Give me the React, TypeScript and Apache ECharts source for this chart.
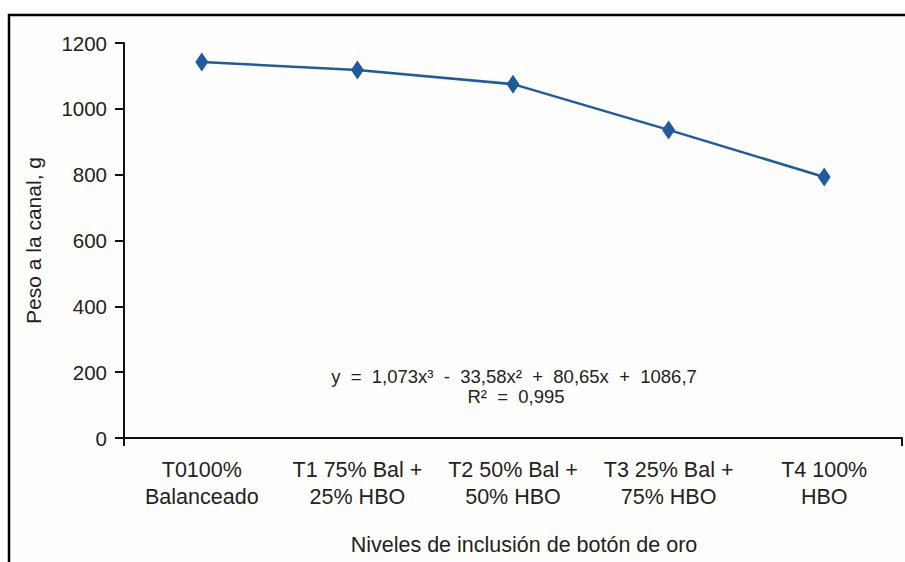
import React, { useEffect, useRef } from "react";
import * as echarts from "echarts";

const categories = [
  "T0100%\nBalanceado",
  "T1 75% Bal +\n25% HBO",
  "T2 50% Bal +\n50% HBO",
  "T3 25% Bal +\n75% HBO",
  "T4 100%\nHBO",
];
const pesoCanal = [1142, 1118, 1075, 936, 793];
const yTicks = { min: 0, max: 1200, interval: 200 };
const equationLine = "y  =  1,073x³  -  33,58x²  +  80,65x  +  1086,7";
const r2Line = "R²  =  0,995";
const xTitle = "Niveles de inclusión de botón de oro";
const yTitle = "Peso a la canal, g";

export default function App() {
  const ref = useRef<HTMLDivElement>(null);
  useEffect(() => {
    if (!ref.current) return;
    const chart = echarts.init(ref.current, null, { renderer: "svg" });
    const font = "'Liberation Sans', Arial, sans-serif";
    chart.setOption({
      animation: false,
      backgroundColor: "#ffffff",
      textStyle: { fontFamily: font },
      grid: { left: 124, right: 3, top: 43, bottom: 124, containLabel: false },
      graphic: [
        {
          type: "rect",
          shape: { x: 9, y: 15, width: 960, height: 600 },
          style: { fill: "#fefefc", stroke: "#000", lineWidth: 2.5 },
          z: -10,
        },
        {
          type: "text",
          x: 514,
          y: 376,
          style: {
            text: equationLine,
            font: `18.5px ${font}`,
            fill: "#222",
            align: "center",
            verticalAlign: "middle",
          },
        },
        {
          type: "text",
          x: 516,
          y: 396,
          style: {
            text: r2Line,
            font: `18.5px ${font}`,
            fill: "#222",
            align: "center",
            verticalAlign: "middle",
          },
        },
      ],
      xAxis: [
        {
          type: "category",
          data: categories,
          boundaryGap: true,
          name: xTitle,
          nameLocation: "middle",
          nameGap: 96,
          nameTextStyle: { fontSize: 21.5, color: "#222", padding: [0, 0, 0, 22] },
          axisLine: { lineStyle: { color: "#111", width: 2 } },
          axisTick: { alignWithLabel: true, length: 8, lineStyle: { color: "#111", width: 2 } },
          axisLabel: { fontSize: 21.5, color: "#222", lineHeight: 27, margin: 18, interval: 0 },
        },
        {
          type: "value",
          min: 0,
          max: 1,
          interval: 1,
          position: "bottom",
          axisLine: { show: false },
          axisTick: { show: true, length: 8, lineStyle: { color: "#111", width: 2 } },
          axisLabel: { show: false },
          splitLine: { show: false },
        },
      ],
      yAxis: {
        type: "value",
        min: yTicks.min,
        max: yTicks.max,
        interval: yTicks.interval,
        name: yTitle,
        nameLocation: "middle",
        nameGap: 80,
        nameTextStyle: { fontSize: 21, color: "#222" },
        axisLine: { show: true, lineStyle: { color: "#111", width: 2 } },
        axisTick: { show: true, length: 9, lineStyle: { color: "#111", width: 2 } },
        axisLabel: {
          fontSize: 20.5,
          color: "#222",
          margin: 17,
          formatter: (v: number) => String(v),
        },
        splitLine: { show: false },
      },
      series: [
        {
          type: "line",
          xAxisIndex: 0,
          data: pesoCanal,
          symbol: "diamond",
          symbolSize: [13, 19],
          lineStyle: { color: "#1f5b9f", width: 2.5 },
          itemStyle: { color: "#1f5b9f" },
        },
      ],
    });
    return () => chart.dispose();
  }, []);
  return (
    <div
      ref={ref}
      style={{ position: "absolute", left: 0, top: 0, width: 905, height: 562 }}
    />
  );
}
